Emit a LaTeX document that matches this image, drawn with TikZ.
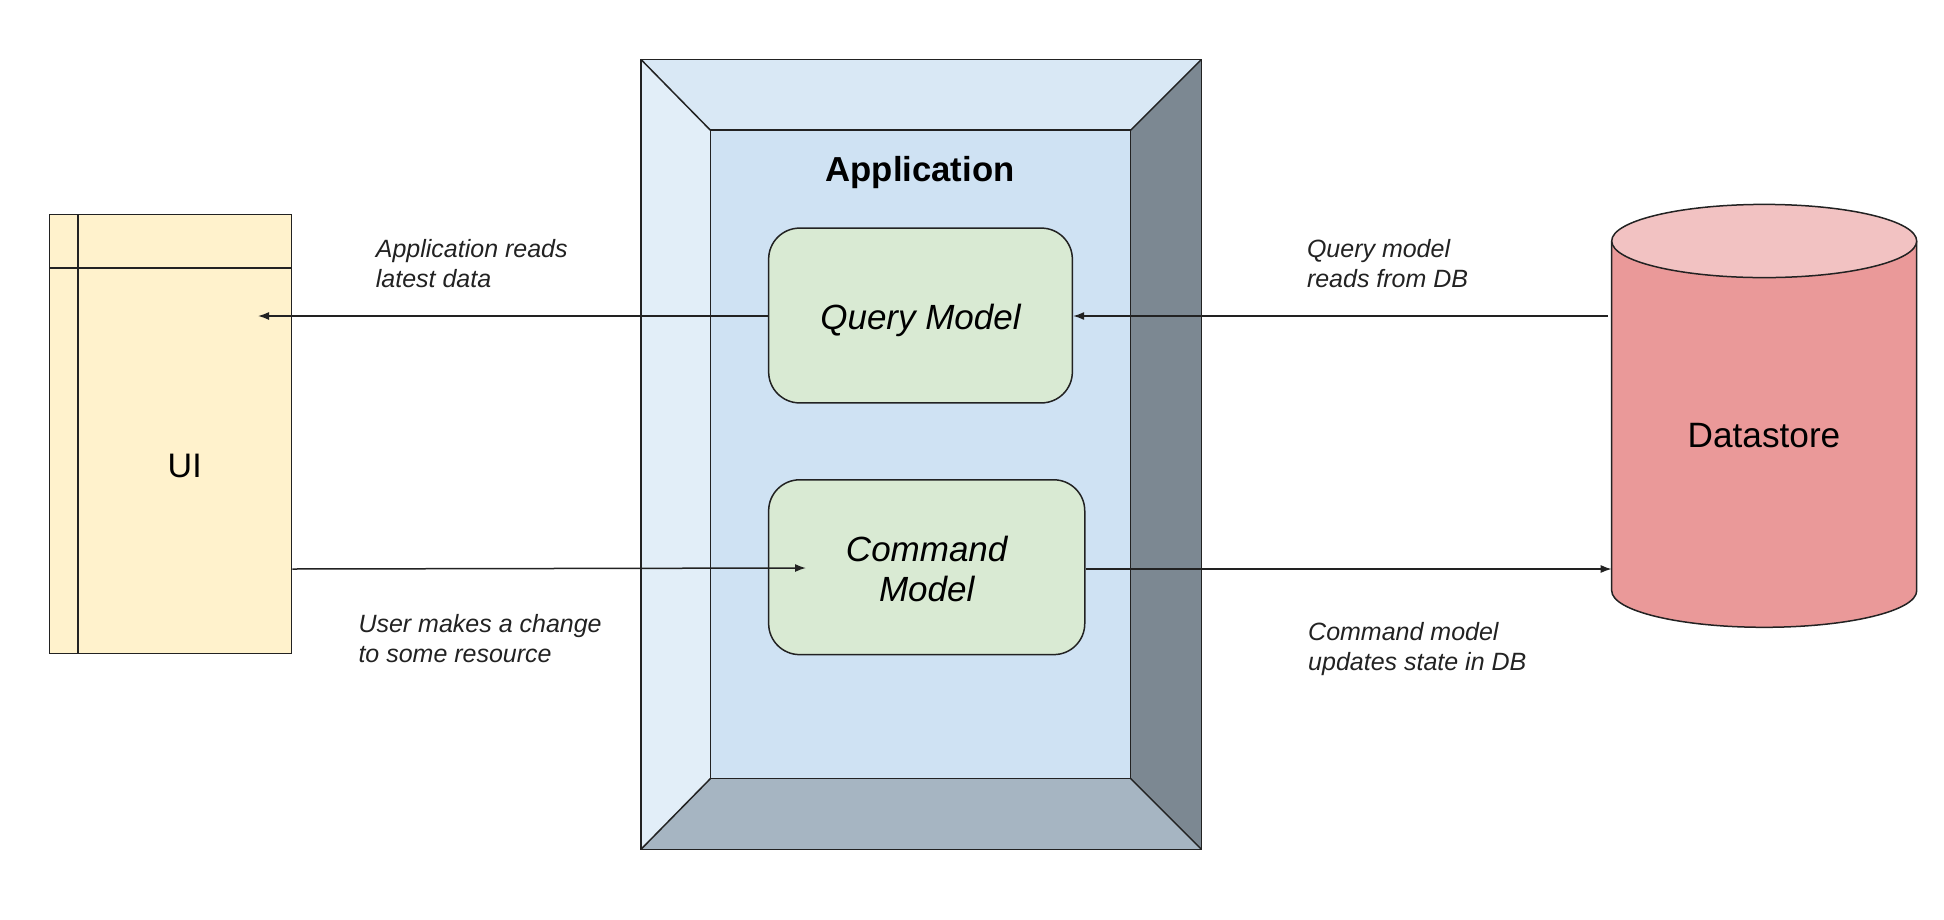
\documentclass[tikz,border=0pt]{standalone}
\usepackage{fontspec}
\setmainfont{Liberation Sans}
\usetikzlibrary{arrows.meta}
\definecolor{uiyellow}{HTML}{FFF2CC}
\definecolor{modelgreen}{HTML}{D9EAD3}
\definecolor{appface}{HTML}{CFE2F3}
\definecolor{apptop}{HTML}{D9E8F5}
\definecolor{appleft}{HTML}{E2EEF8}
\definecolor{appbottom}{HTML}{A6B5C2}
\definecolor{appright}{HTML}{7C8892}
\definecolor{dsbody}{HTML}{EA9999}
\definecolor{dstop}{HTML}{F2C2C2}
\definecolor{edge}{HTML}{222222}
\begin{document}
\begin{tikzpicture}[x=1pt,y=-1pt,
  outline/.style={draw=edge,line width=1.5pt},
  modelbox/.style={outline,fill=modelgreen,rounded corners=31pt,inner sep=0pt},
  modeltext/.style={align=center,font=\fontsize{35}{40}\selectfont\itshape,inner sep=0pt},
  note/.style={font=\fontsize{25}{30}\selectfont\itshape,align=left,anchor=west,inner sep=0pt,text=edge},
  conn/.style={draw=edge,line width=1.5pt,-{Latex[length=11pt,width=8pt]}}]
\useasboundingbox (0,0) rectangle (1944,919);
% UI
\node[outline,fill=uiyellow,minimum width=242pt,minimum height=439pt,inner sep=0pt] (ui) at (170.5,434) {};
\draw[outline] (78,214.5) -- (78,653.4);
\draw[outline] (49.6,268) -- (291.4,268);
\node[font=\fontsize{34}{41}\selectfont] (uilabel) at (184.7,466) {UI};
% Application bevel
\fill[apptop] (641,59.5) -- (1201.4,59.5) -- (1130.7,130.2) -- (710.4,130.2) -- cycle;
\fill[appleft] (641,59.5) -- (710.4,130.2) -- (710.4,778.6) -- (641,849.3) -- cycle;
\fill[appright] (1201.4,59.5) -- (1201.4,849.3) -- (1130.7,778.6) -- (1130.7,130.2) -- cycle;
\fill[appbottom] (641,849.3) -- (710.4,778.6) -- (1130.7,778.6) -- (1201.4,849.3) -- cycle;
\node[outline,fill=appface,minimum width=420.3pt,minimum height=648.4pt,inner sep=0pt] (app) at (920.55,454.4) {};
\draw[outline] (641,59.5) rectangle (1201.4,849.3);
\draw[outline] (641,59.5) -- (710.4,130.2);
\draw[outline] (1201.4,59.5) -- (1130.7,130.2);
\draw[outline] (641,849.3) -- (710.4,778.6);
\draw[outline] (1201.4,849.3) -- (1130.7,778.6);
\node[font=\fontsize{34.7}{41}\selectfont\bfseries] (applabel) at (920,172.5) {Application};
% models
\node[modelbox,minimum width=303.7pt,minimum height=174.8pt] (query) at (920.5,315.5) {};
\node[modeltext,anchor=base] (qtext) at (920.5,329.5) {Query Model};
\node[modelbox,minimum width=316.1pt,minimum height=174.8pt] (cmd) at (926.7,567.2) {};
\node[modeltext] (ctext) at (926.7,569.2) {Command\\Model};
% Datastore
\path[fill=dsbody,draw=edge,line width=1.5pt] (1611.7,241) -- (1611.7,590.7)
  arc[start angle=180,end angle=0,x radius=152.5,y radius=36.6] -- (1916.7,241);
\draw[outline,fill=dstop] (1764.2,241) ellipse[x radius=152.5,y radius=36.6];
\node[font=\fontsize{35.2}{41}\selectfont] (ds) at (1764,436) {Datastore};
\coordinate (dsq) at (1608,316);
\coordinate (dsc) at (1611.7,569);
\coordinate (uiq) at (258,316);
\coordinate (cmdin) at (806,568);
% connectors
\draw[conn] (query.west |- dsq) -- (uiq);
\draw[conn] (dsq) -- (query.east |- dsq);
\draw[conn] (ui.east |- dsc) -- (cmdin);
\draw[conn] (cmd.east |- dsc) -- (dsc);
% notes
\node[note] (n1) at (375.7,263.5) {Application reads\\latest data};
\node[note] (n2) at (358.3,639) {User makes a change\\to some resource};
\node[note] (n3) at (1306.8,263.5) {Query model\\reads from DB};
\node[note] (n4) at (1308,649) {Command model\\updates state in DB};
\end{tikzpicture}
\end{document}
